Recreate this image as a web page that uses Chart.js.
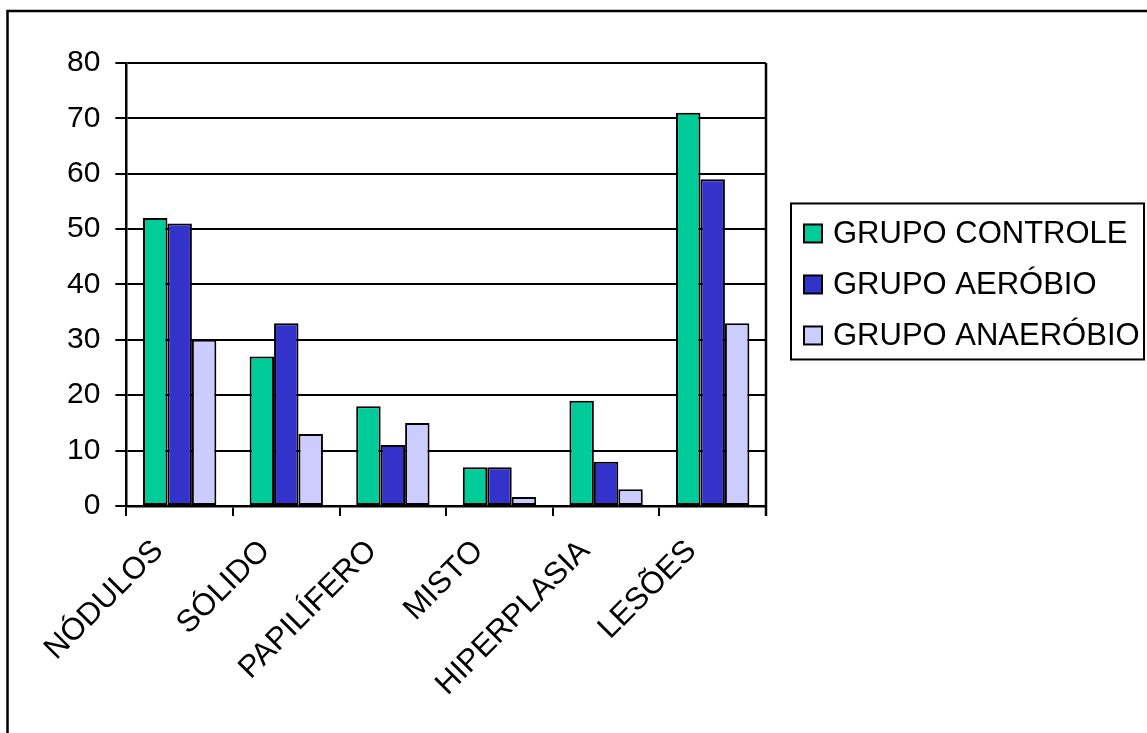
<!DOCTYPE html>
<html>
<head>
<meta charset="utf-8">
<script src="https://cdn.jsdelivr.net/npm/chart.js@4.4.1/dist/chart.umd.min.js"></script>
<style>
  html, body { margin: 0; padding: 0; background: #ffffff; overflow: hidden; }
  #wrap { width: 1147px; height: 733px; position: relative; }
</style>
</head>
<body>
<div id="wrap"><canvas id="chart" width="1147" height="733"></canvas></div>
<script>
// Categories and series values
const categories = ['NÓDULOS', 'SÓLIDO', 'PAPILÍFERO', 'MISTO', 'HIPERPLASIA', 'LESÕES'];
const seriesNames = ['GRUPO CONTROLE', 'GRUPO AERÓBIO', 'GRUPO ANAERÓBIO'];
const grupoControle = [52, 27, 18, 7, 19, 71];
const grupoAerobio = [51, 33, 11, 7, 8, 59];
const grupoAnaerobio = [30, 13, 15, 1.6, 3, 33];
const yMin = 0;
const yMax = 80;
const yStep = 10;

const seriesColors = ['#00CC99', '#3333CC', '#CCCCFF'];
const FONT = '"Liberation Sans", Arial, sans-serif';

// Outer frame and plot-area right border
const framePlugin = {
  id: 'framePlugin',
  beforeDraw(chart) {
    const ctx = chart.ctx;
    ctx.save();
    ctx.strokeStyle = '#000';
    ctx.lineWidth = 2.5;
    ctx.beginPath();
    ctx.moveTo(7.5, chart.height + 5);
    ctx.lineTo(7.5, 11);
    ctx.lineTo(chart.width + 5, 11);
    ctx.stroke();
    ctx.restore();
  },
  afterDraw(chart) {
    const ctx = chart.ctx;
    const a = chart.chartArea;
    ctx.save();
    ctx.strokeStyle = '#000';
    ctx.lineWidth = 2.5;
    ctx.beginPath();
    ctx.moveTo(a.right, a.top);
    ctx.lineTo(a.right, a.bottom + 10);
    ctx.stroke();
    ctx.restore();
  }
};

// Boxed legend to the right of the plot area, built from the datasets
const boxedLegend = {
  id: 'boxedLegend',
  afterDraw(chart) {
    const ctx = chart.ctx;
    const a = chart.chartArea;
    const sets = chart.data.datasets;
    const rowGap = 51;
    const midY = (a.top + a.bottom) / 2;
    const firstY = midY - rowGap * (sets.length - 1) / 2;
    const boxLeft = a.right + 25;
    const boxTop = firstY - 30;
    const boxBottom = firstY + rowGap * (sets.length - 1) + 24;
    const boxRight = chart.width - 3;
    const sw = 18;

    ctx.save();
    ctx.strokeStyle = '#000';
    ctx.lineWidth = 2;
    ctx.strokeRect(boxLeft, boxTop, boxRight - boxLeft, boxBottom - boxTop);

    ctx.font = '31px ' + FONT;
    ctx.textBaseline = 'middle';
    ctx.textAlign = 'left';
    sets.forEach((ds, i) => {
      const cy = firstY + i * rowGap;
      const sx = boxLeft + 13;
      ctx.fillStyle = ds.backgroundColor;
      ctx.fillRect(sx, cy - sw / 2, sw, sw);
      ctx.lineWidth = 2;
      ctx.strokeStyle = '#000';
      ctx.strokeRect(sx, cy - sw / 2, sw, sw);
      ctx.fillStyle = '#000';
      ctx.fillText(ds.label, sx + sw + 11, cy + 1);
    });
    ctx.restore();
  }
};

const datasets = [grupoControle, grupoAerobio, grupoAnaerobio].map((values, i) => ({
  label: seriesNames[i],
  data: values,
  backgroundColor: seriesColors[i],
  borderColor: '#000',
  borderWidth: 2,
  borderSkipped: false,
  categoryPercentage: 0.688,
  barPercentage: 1.0
}));

new Chart(document.getElementById('chart'), {
  type: 'bar',
  data: { labels: categories, datasets },
  plugins: [framePlugin, boxedLegend],
  options: {
    responsive: false,
    animation: false,
    devicePixelRatio: 1,
    layout: { padding: { left: 52, top: 63, right: 381, bottom: 13 } },
    plugins: {
      tooltip: { enabled: false },
      legend: { display: false }
    },
    scales: {
      x: {
        offset: true,
        border: { display: true, color: '#000', width: 2.5 },
        grid: {
          display: true,
          offset: true,
          drawOnChartArea: false,
          drawTicks: true,
          tickLength: 10,
          color: '#000',
          lineWidth: 2
        },
        ticks: {
          color: '#000',
          font: { family: FONT, size: 31 },
          minRotation: 45,
          maxRotation: 45,
          padding: 17,
          labelOffset: -21,
          autoSkip: false
        }
      },
      y: {
        min: yMin,
        max: yMax,
        border: { display: true, color: '#000', width: 2.5 },
        grid: {
          color: '#000',
          lineWidth: 2,
          drawTicks: true,
          tickLength: 11
        },
        ticks: {
          stepSize: yStep,
          color: '#000',
          font: { family: FONT, size: 30 },
          padding: 15
        }
      }
    }
  }
});
</script>
</body>
</html>
